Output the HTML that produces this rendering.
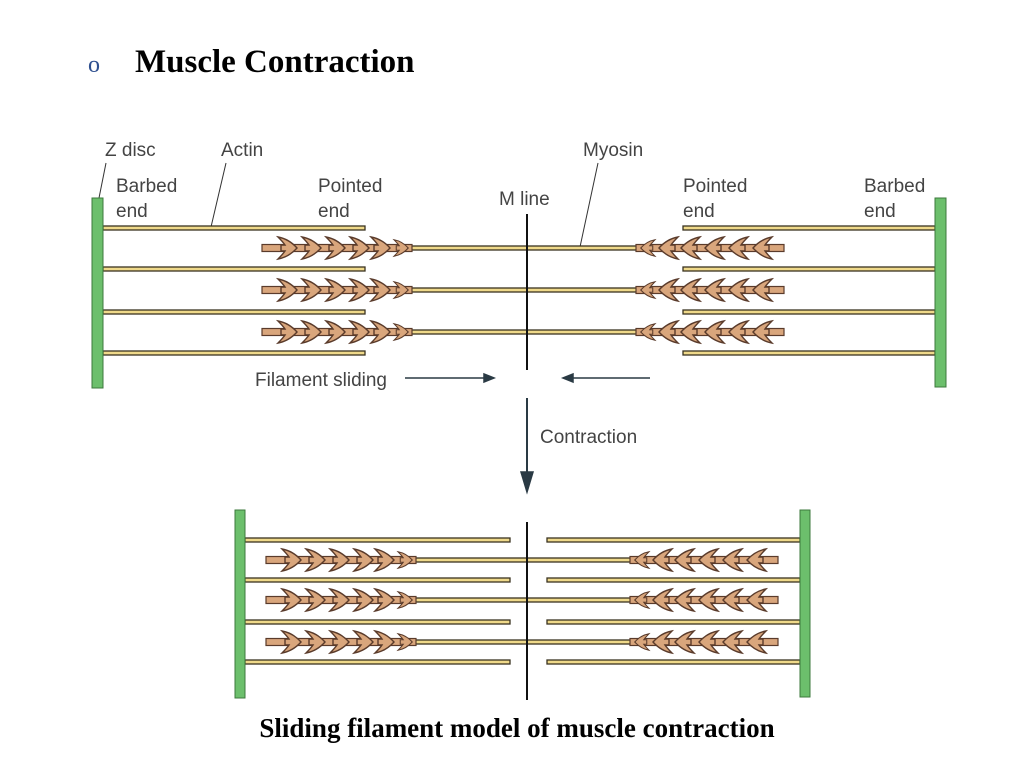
<!DOCTYPE html>
<html><head><meta charset="utf-8"><style>
body{margin:0;background:#fff;width:1024px;height:768px;overflow:hidden}
svg{display:block}
.lab{font-family:"Liberation Sans",sans-serif;font-size:19px;fill:#444}
</style></head><body>
<svg width="1024" height="768" viewBox="0 0 1024 768" xmlns="http://www.w3.org/2000/svg">
<defs>
<g id="hr"><path d="M-12,-11 Q-1,-9 7,0 Q-1,9 -12,11 Q-7,6 -5,3 L-9,3 L-9,-3 L-5,-3 Q-7,-6 -12,-11 Z" fill="#d9a67c" stroke="#5a3b2b" stroke-width="1.4"/></g>
<g id="hl"><use href="#hr" transform="scale(-1,1)"/></g>
<g id="mleft">
<rect x="0" y="-3.5" width="150" height="7" fill="#d9a67c" stroke="#5a3b2b" stroke-width="1.2"/>
<use href="#hr" x="28"/><use href="#hr" x="52"/><use href="#hr" x="76"/><use href="#hr" x="100"/><use href="#hr" x="121"/><use href="#hr" transform="translate(141,0) scale(0.75)"/>
</g>
<g id="mright">
<rect x="0" y="-3.5" width="148" height="7" fill="#d9a67c" stroke="#5a3b2b" stroke-width="1.2"/>
<use href="#hl" transform="translate(10,0) scale(0.75)"/><use href="#hl" x="30"/><use href="#hl" x="52"/><use href="#hl" x="76"/><use href="#hl" x="100"/><use href="#hl" x="124"/>
</g>
</defs>

<text x="88" y="72" font-family="Liberation Serif,serif" font-size="24" fill="#2e4f8f">o</text>
<text x="135" y="72" font-family="Liberation Serif,serif" font-size="33" font-weight="bold" fill="#000">Muscle Contraction</text>

<text class="lab" x="105" y="156">Z disc</text>
<text class="lab" x="221" y="156">Actin</text>
<text class="lab" x="583" y="156">Myosin</text>
<text class="lab" x="116" y="192">Barbed</text>
<text class="lab" x="116" y="217">end</text>
<text class="lab" x="318" y="192">Pointed</text>
<text class="lab" x="318" y="217">end</text>
<text class="lab" x="499" y="205">M line</text>
<text class="lab" x="683" y="192">Pointed</text>
<text class="lab" x="683" y="217">end</text>
<text class="lab" x="864" y="192">Barbed</text>
<text class="lab" x="864" y="217">end</text>
<g stroke="#333" stroke-width="1">
<line x1="106" y1="163" x2="99" y2="198"/>
<line x1="226" y1="163" x2="211" y2="227"/>
<line x1="598" y1="163" x2="580" y2="247"/>
</g>

<g fill="#efd98a" stroke="#3a3320" stroke-width="1.3">
<rect x="103" y="226" width="262" height="4"/><rect x="103" y="267" width="262" height="4"/><rect x="103" y="310" width="262" height="4"/><rect x="103" y="351" width="262" height="4"/>
<rect x="683" y="226" width="252" height="4"/><rect x="683" y="267" width="252" height="4"/><rect x="683" y="310" width="252" height="4"/><rect x="683" y="351" width="252" height="4"/>
<rect x="400" y="246" width="250" height="4"/><rect x="400" y="288" width="250" height="4"/><rect x="400" y="330" width="250" height="4"/>
</g>
<use href="#mleft" x="262" y="248"/><use href="#mleft" x="262" y="290"/><use href="#mleft" x="262" y="332"/>
<use href="#mright" x="636" y="248"/><use href="#mright" x="636" y="290"/><use href="#mright" x="636" y="332"/>
<line x1="527" y1="214" x2="527" y2="370" stroke="#111" stroke-width="2"/>
<rect x="92" y="198" width="11" height="190" fill="#6cbf6c" stroke="#3c7a3c"/>
<rect x="935" y="198" width="11" height="189" fill="#6cbf6c" stroke="#3c7a3c"/>

<text class="lab" x="255" y="386">Filament sliding</text>
<g stroke="#2a3a44" stroke-width="1.5" fill="#2a3a44">
<line x1="405" y1="378" x2="486" y2="378"/><path d="M494,378 L484,374 L484,382 Z"/>
<line x1="572" y1="378" x2="650" y2="378"/><path d="M563,378 L573,374 L573,382 Z"/>
<line x1="527" y1="398" x2="527" y2="475" stroke-width="2"/><path d="M527,492 L521,472 L533,472 Z"/>
</g>
<text class="lab" x="540" y="443">Contraction</text>

<g fill="#efd98a" stroke="#3a3320" stroke-width="1.3">
<rect x="245" y="538" width="265" height="4"/><rect x="245" y="578" width="265" height="4"/><rect x="245" y="620" width="265" height="4"/><rect x="245" y="660" width="265" height="4"/>
<rect x="547" y="538" width="253" height="4"/><rect x="547" y="578" width="253" height="4"/><rect x="547" y="620" width="253" height="4"/><rect x="547" y="660" width="253" height="4"/>
<rect x="400" y="558" width="250" height="4"/><rect x="400" y="598" width="250" height="4"/><rect x="400" y="640" width="250" height="4"/>
</g>
<use href="#mleft" x="266" y="560"/><use href="#mleft" x="266" y="600"/><use href="#mleft" x="266" y="642"/>
<use href="#mright" x="630" y="560"/><use href="#mright" x="630" y="600"/><use href="#mright" x="630" y="642"/>
<line x1="527" y1="522" x2="527" y2="700" stroke="#111" stroke-width="2"/>
<rect x="235" y="510" width="10" height="188" fill="#6cbf6c" stroke="#3c7a3c"/>
<rect x="800" y="510" width="10" height="187" fill="#6cbf6c" stroke="#3c7a3c"/>

<text x="517" y="737" text-anchor="middle" font-family="Liberation Serif,serif" font-size="27" font-weight="bold" fill="#000">Sliding filament model of muscle contraction</text>
</svg>
</body></html>
